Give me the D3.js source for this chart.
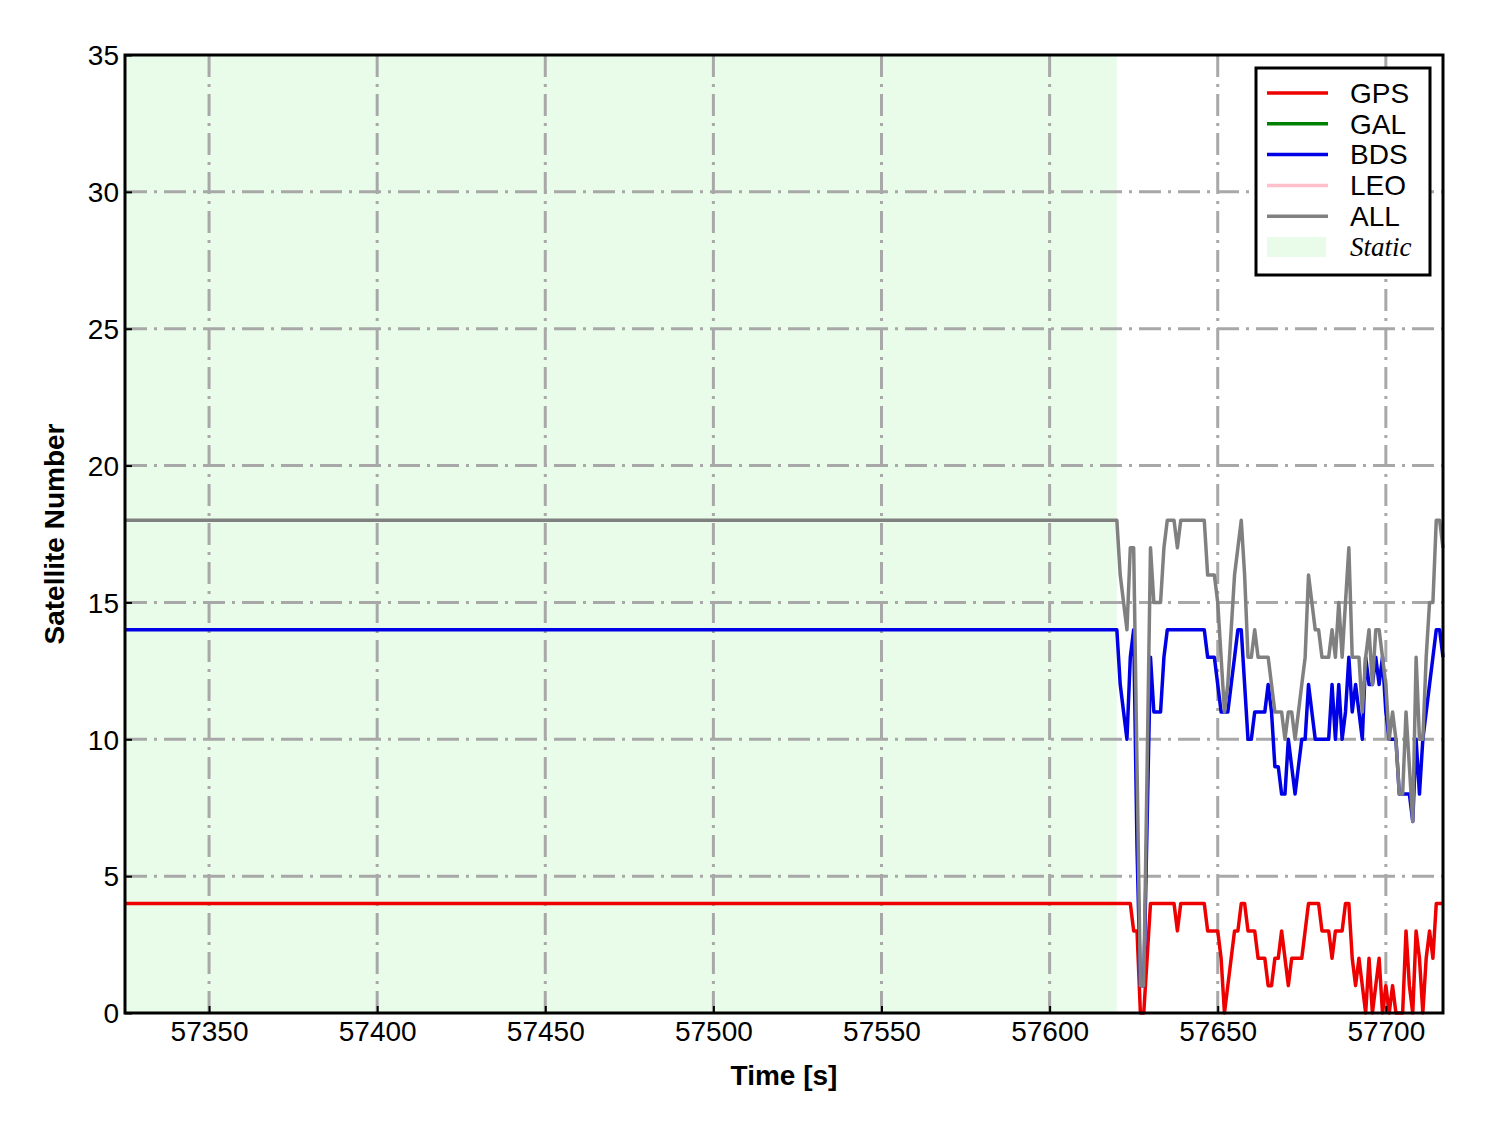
<!DOCTYPE html>
<html>
<head>
<meta charset="utf-8">
<script src="https://cdn.jsdelivr.net/npm/d3@7"></script>
<style>
  body { margin: 0; background: #fff; }
  text { font-family: "Liberation Sans", Arial, sans-serif; }
</style>
</head>
<body>
<div class="container"></div>
<script>
// static period: constant counts from the first epoch to staticEnd
const staticStart = 57325;
const staticEnd = 57620;
const staticGps = 4;
const staticBds = 14;
const staticAll = 18;

// kinematic period, one value per second starting at staticEnd
const gpsDyn = [4,4,4,4,4, 3,3,0,0,2, 4,4,4,4,4,4,4,4, 3, 4,4,4,4,4,4,4,4,
  3,3,3,3,2, 0,1,2,3,3,4, 4,3,3,3, 2,2,2,1,1, 2,2,3,2,1,2,2,2,2,3,
  4,4,4,4, 3,3,3,2,3,3,3, 4,4, 2,1,2,1,0,2,0,1,2,0, 1,0,1,0,0,0,3,1,0,3,
  2,0,2,3,2,4,4,4];
const bdsDyn = [14,12,11,10,13, 14,6,1,1,7, 13,11,11,11,13,14,14,14, 14, 14,14,14,14,14,14,14,14,
  13,13,13,12,11, 11,11,12,13,14,14, 12,10,10,11, 11,11,11,12,11, 9,9,8,8,10,9,8,9,10,10,
  12,11,10,10, 10,10,10,12,10,12,10, 11,13, 11,12,11,10,13,12,12,13,12,13, 11,10,10,10,8,8,8,8,7,10,
  8,10,11,12,13,14,14,13];
const allDyn = [18,16,15,14,17, 17,9,1,1,9, 17,15,15,15,17,18,18,18, 17, 18,18,18,18,18,18,18,18,
  16,16,16,15,13, 11,12,14,16,17,18, 16,13,13,14, 13,13,13,13,12, 11,11,11,10,11,11,10,11,12,13,
  16,15,14,14, 13,13,13,14,13,15,13, 15,17, 13,13,13,11,13,14,12,14,14,13, 12,10,11,10,8,8,11,9,7,13,
  10,10,13,15,15,18,18,17];

const xTicks = [57350, 57400, 57450, 57500, 57550, 57600, 57650, 57700];
const yTicks = [0, 5, 10, 15, 20, 25, 30, 35];

const legendItems = [
  { name: "GPS", color: "#ee0000" },
  { name: "GAL", color: "#008000" },
  { name: "BDS", color: "#0000e6" },
  { name: "LEO", color: "#ffc0cb" },
  { name: "ALL", color: "#808080" },
];

function toSeries(staticVal, dyn) {
  return [{ t: staticStart, v: staticVal }].concat(
    dyn.map((v, i) => ({ t: staticEnd + i, v }))
  );
}
const series = [
  { name: "GPS", color: "#ee0000", data: toSeries(staticGps, gpsDyn) },
  { name: "BDS", color: "#0000e6", data: toSeries(staticBds, bdsDyn) },
  { name: "ALL", color: "#808080", data: toSeries(staticAll, allDyn) },
];

const width = 1488;
const height = 1133;
const margin = { top: 55, right: 45, bottom: 120, left: 125 };

const svg = d3
  .select(".container")
  .append("svg")
  .attr("width", width)
  .attr("height", height);

const x = d3
  .scaleLinear()
  .domain([staticStart, staticEnd + gpsDyn.length - 1])
  .range([margin.left, width - margin.right]);
const y = d3
  .scaleLinear()
  .domain([0, 35])
  .range([height - margin.bottom, margin.top]);

const x0 = x.range()[0], x1 = x.range()[1];
const y0 = y.range()[0], y1 = y.range()[1];

// static shading
svg
  .append("rect")
  .attr("x", x0)
  .attr("y", y1)
  .attr("width", x(staticEnd) - x0)
  .attr("height", y0 - y1)
  .attr("fill", "#e9fce9");

// grid
const grid = svg
  .append("g")
  .attr("stroke", "#a8a8a8")
  .attr("stroke-width", 3)
  .attr("stroke-dasharray", "22,7,3,7");
grid
  .selectAll("line.gx")
  .data(xTicks)
  .join("line")
  .attr("class", "gx")
  .attr("x1", (d) => x(d))
  .attr("x2", (d) => x(d))
  .attr("y1", y0)
  .attr("y2", y1);
grid
  .selectAll("line.gy")
  .data(yTicks.slice(1, -1))
  .join("line")
  .attr("class", "gy")
  .attr("x1", x0)
  .attr("x2", x1)
  .attr("y1", (d) => y(d))
  .attr("y2", (d) => y(d));

// series lines
const line = d3
  .line()
  .x((d) => x(d.t))
  .y((d) => y(d.v));
svg
  .append("g")
  .attr("fill", "none")
  .attr("stroke-width", 3.5)
  .attr("stroke-linejoin", "round")
  .selectAll("path")
  .data(series)
  .join("path")
  .attr("stroke", (d) => d.color)
  .attr("d", (d) => line(d.data));

// axes with inward ticks
const xAxis = svg
  .append("g")
  .attr("transform", `translate(0,${y0})`)
  .call(d3.axisBottom(x).tickValues(xTicks).tickSize(-7).tickPadding(8).tickFormat(d3.format("d")));
const yAxis = svg
  .append("g")
  .attr("transform", `translate(${x0},0)`)
  .call(d3.axisLeft(y).tickValues(yTicks).tickSize(-7).tickPadding(6));
[xAxis, yAxis].forEach((a) => {
  a.select(".domain").remove();
  a.selectAll(".tick line").attr("stroke", "#000").attr("stroke-width", 2);
  a.selectAll(".tick text")
    .attr("fill", "#000")
    .style("font-size", "28px")
    .style("font-family", "'Liberation Sans', Arial, sans-serif");
});
yAxis.selectAll(".tick text").attr("dy", "0.35em");

// frame
svg
  .append("rect")
  .attr("x", x0)
  .attr("y", y1)
  .attr("width", x1 - x0)
  .attr("height", y0 - y1)
  .attr("fill", "none")
  .attr("stroke", "#000")
  .attr("stroke-width", 3);

// axis titles
svg
  .append("text")
  .attr("x", (x0 + x1) / 2)
  .attr("y", 1085)
  .attr("text-anchor", "middle")
  .style("font-size", "28px")
  .style("font-weight", "bold")
  .text("Time [s]");
svg
  .append("text")
  .attr("transform", `translate(64,${(y0 + y1) / 2}) rotate(-90)`)
  .attr("text-anchor", "middle")
  .style("font-size", "28px")
  .style("font-weight", "bold")
  .text("Satellite Number");

// legend
const legend = svg.append("g").attr("transform", "translate(1256,68)");
legend
  .append("rect")
  .attr("width", 174)
  .attr("height", 207)
  .attr("fill", "#fff")
  .attr("stroke", "#000")
  .attr("stroke-width", 3);
const rowH = 30.8;
const rows = legend
  .selectAll("g.row")
  .data(legendItems)
  .join("g")
  .attr("class", "row")
  .attr("transform", (d, i) => `translate(0,${25 + i * rowH})`);
rows
  .append("line")
  .attr("x1", 11)
  .attr("x2", 72)
  .attr("stroke", (d) => d.color)
  .attr("stroke-width", 3.5);
rows
  .append("text")
  .attr("x", 94)
  .attr("dy", "0.35em")
  .style("font-size", "28px")
  .text((d) => d.name);
const staticRow = legend
  .append("g")
  .attr("transform", `translate(0,${25 + 5 * rowH})`);
staticRow
  .append("rect")
  .attr("x", 11)
  .attr("y", -10)
  .attr("width", 59)
  .attr("height", 20)
  .attr("fill", "#e9fce9");
staticRow
  .append("text")
  .attr("x", 94)
  .attr("dy", "0.35em")
  .style("font-family", "'Liberation Serif', 'Times New Roman', serif")
  .style("font-style", "italic")
  .style("font-size", "27px")
  .text("Static");
</script>
</body>
</html>
